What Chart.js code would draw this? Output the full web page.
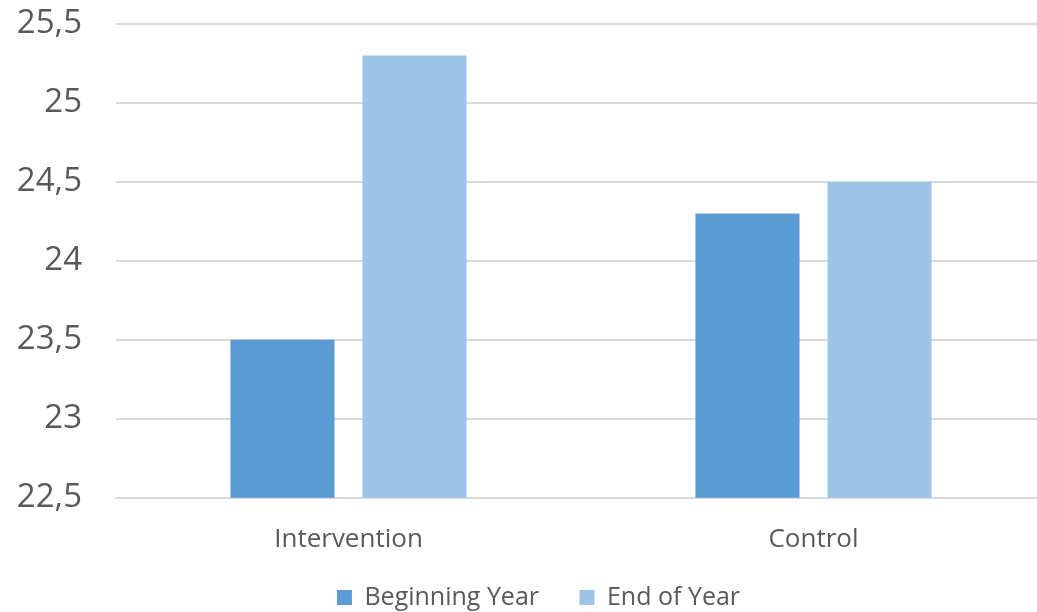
<!DOCTYPE html>
<html>
<head>
<meta charset="utf-8">
<script src="https://cdn.jsdelivr.net/npm/chart.js@4"></script>
<style>
  html, body { margin: 0; padding: 0; background: #ffffff; overflow: hidden; }
  /* the plot runs a few px past the window edge, like in the original */
  #wrap { width: 1046px; height: 612px; position: relative; }
</style>
</head>
<body>
<div id="wrap"><canvas id="chart"></canvas></div>
<script>
const categories = ["Intervention", "Control"];
const beginningYear = [23.5, 24.3];
const endOfYear = [25.3, 24.5];
const yTicks = [22.5, 23, 23.5, 24, 24.5, 25, 25.5];

const textColor = "#595959";
const gridColor = "#d9d9d9";

// the legend sits a bit right of the canvas centre in the original
const legendOffset = {
  id: "legendOffset",
  afterLayout(chart) {
    chart.legend.left += 7;
    chart.legend.right += 7;
  },
};

const ctx = document.getElementById("chart").getContext("2d");
const chart = new Chart(ctx, {
  type: "bar",
  data: {
    labels: categories,
    datasets: [
      {
        label: "Beginning Year",
        data: beginningYear,
        backgroundColor: "#5b9bd5",
        barPercentage: 0.788,
        categoryPercentage: 0.568,
      },
      {
        label: "End of Year",
        data: endOfYear,
        backgroundColor: "#9dc3e6",
        barPercentage: 0.788,
        categoryPercentage: 0.568,
      },
    ],
  },
  plugins: [legendOffset],
  options: {
    responsive: true,
    maintainAspectRatio: false,
    animation: false,
    layout: {
      padding: { top: 24, right: 0, left: 17, bottom: -8 },
    },
    plugins: {
      tooltip: { enabled: false },
      legend: {
        position: "bottom",
        labels: {
          color: textColor,
          font: { family: "'Open Sans'", size: 25 },
          boxWidth: 15,
          boxHeight: 15,
          padding: 8,
          // extra spaces after the first entry keep the gap between the two items
          generateLabels: function (chart) {
            const items = Chart.defaults.plugins.legend.labels.generateLabels(chart);
            items[0].text = items[0].text + "     ";
            return items;
          },
        },
      },
    },
    scales: {
      x: {
        // invisible tick marks give the space under the axis (ticks.padding would also pad the sides)
        grid: { display: true, color: "transparent", drawTicks: true, tickLength: 26, tickColor: "transparent" },
        border: { display: true, color: gridColor, width: 2 },
        ticks: {
          color: textColor,
          font: { family: "'Open Sans'", size: 26 },
          padding: 0,
        },
        afterFit: function (axis) {
          axis.height += 22;
        },
      },
      y: {
        min: yTicks[0],
        max: yTicks[yTicks.length - 1],
        afterBuildTicks: function (axis) {
          axis.ticks = yTicks.map(function (v) { return { value: v }; });
        },
        afterFit: function (axis) {
          axis.width = 99;
        },
        grid: { color: gridColor, lineWidth: 2, drawTicks: true, tickLength: 34, tickColor: "transparent" },
        border: { display: false },
        ticks: {
          color: textColor,
          font: { family: "'Open Sans'", size: 33 },
          padding: 0,
          callback: function (value) {
            return String(value).replace(".", ",");
          },
        },
      },
    },
  },
});
</script>
</body>
</html>
